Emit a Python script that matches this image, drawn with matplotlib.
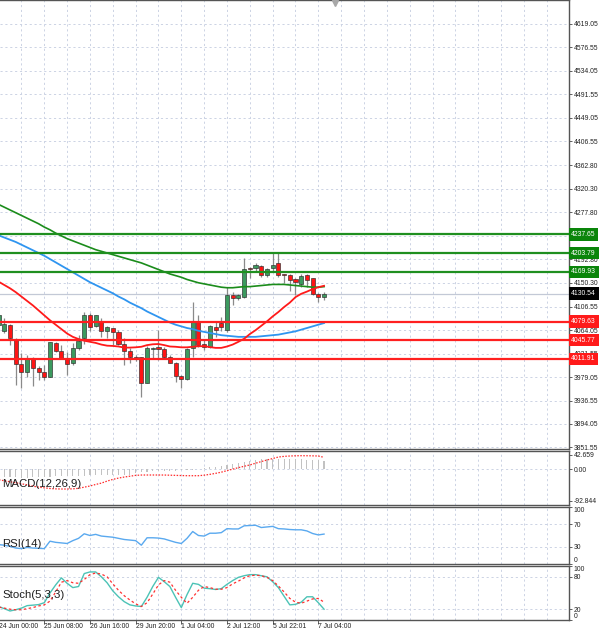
import numpy as np
import matplotlib.pyplot as plt
import matplotlib.transforms as mtransforms

plt.rcParams['font.family'] = ['Liberation Sans', 'DejaVu Sans']

# H4 bars, index -1 is the bar cut by the left edge
bar_idx = np.arange(-1, 57)

opens = [4073.5, 4062.6, 4073.5, 4048.1, 4002.3, 3987.8, 4013.1, 3995.0, 3988.8, 3979.8,
         4041.4, 4026.4, 4014.2, 4004.1, 4031.3, 4049.4, 4091.6, 4072.2, 4079.5, 4062.6,
         4068.6, 4061.3, 4039.05, 4026.9, 4016.0, 4014.9, 3968.9, 4030.5, 4033.1, 4029.45,
         4016.0, 4005.2, 3981.05, 3975.1, 4031.3, 4079.5, 4039.05, 4033.1, 4070.4, 4077.1,
         4064.4, 4127.9, 4121.9, 4124.8, 4176.3, 4176.3, 4181.0, 4164.1, 4176.3, 4185.3,
         4165.4, 4164.1, 4156.9, 4147.3, 4164.1, 4158.1, 4129.1, 4124.8]
highs = [4100.7, 4086.7, 4074.8, 4049.4, 4022.2, 4019.1, 4016.0, 3999.7, 4001.0, 4042.1,
         4043.2, 4037.2, 4025.1, 4040.3, 4055.4, 4097.6, 4094.7, 4091.6, 4085.6, 4072.2,
         4068.6, 4064.4, 4049.4, 4031.3, 4019.1, 4016.0, 4035.4, 4033.1, 4064.4, 4034.2,
         4019.1, 4007.0, 3982.9, 4031.3, 4115.7, 4091.6, 4046.3, 4073.0, 4079.5, 4088.5,
         4142.9, 4133.8, 4129.1, 4195.5, 4179.2, 4185.3, 4182.2, 4177.3, 4206.3, 4206.3,
         4165.4, 4165.4, 4158.1, 4165.4, 4165.4, 4158.1, 4130.9, 4133.8]
lows = [4068.05, 4058.4, 4037.2, 3964.7, 3958.8, 3979.8, 3963.5, 3973.8, 3973.8, 3979.8,
        4024.55, 4013.1, 3982.9, 4001.0, 4028.2, 4038.5, 4062.6, 4070.4, 4052.3, 4049.4,
        4037.2, 4037.2, 4001.0, 4005.2, 4008.8, 3942.4, 3967.8, 4013.1, 4010.05, 4013.1,
        4004.1, 3970.7, 3958.8, 3973.8, 4016.0, 4034.2, 4028.2, 4032.0, 4052.3, 4062.6,
        4061.3, 4109.7, 4118.8, 4121.9, 4158.1, 4170.1, 4161.0, 4161.0, 4172.0, 4161.0,
        4149.1, 4135.1, 4127.9, 4142.9, 4142.9, 4127.9, 4115.7, 4118.8]
closes = [4091.6, 4074.8, 4049.4, 4002.3, 3987.8, 4011.9, 3995.0, 3988.8, 3979.8, 4042.1,
          4026.4, 4014.2, 4003.3, 4031.3, 4044.5, 4091.6, 4070.4, 4091.6, 4062.6, 4069.3,
          4061.3, 4039.05, 4026.9, 4016.0, 4011.9, 3968.9, 4032.3, 4032.3, 4030.0, 4016.0,
          4005.2, 3981.05, 3975.1, 4029.45, 4079.5, 4037.2, 4033.1, 4071.0, 4064.4, 4069.9,
          4127.9, 4121.9, 4127.9, 4175.0, 4174.4, 4182.2, 4164.1, 4175.0, 4182.2, 4164.1,
          4164.1, 4155.05, 4150.9, 4162.8, 4155.05, 4129.1, 4124.8, 4130.54]

# moving averages
ma_green = [4292, 4287, 4282, 4277, 4272, 4267, 4262, 4257, 4251, 4246,
            4240, 4235, 4230, 4226, 4222, 4218, 4214, 4210, 4207, 4204,
            4201, 4198, 4195, 4192, 4189, 4186, 4182, 4178, 4174, 4170,
            4166, 4163, 4160, 4156, 4153, 4150, 4148, 4146, 4144, 4142,
            4141, 4141, 4142, 4143, 4143, 4144, 4145, 4146, 4147, 4147,
            4147, 4146, 4145, 4144, 4143, 4142, 4142, 4143]
ma_blue = [4236, 4232, 4228, 4224, 4219, 4214, 4209, 4204, 4199, 4193,
           4187, 4181, 4175, 4169, 4163, 4157, 4151, 4146, 4141, 4136,
           4131, 4125, 4120, 4114, 4109, 4104, 4098, 4093, 4088, 4083,
           4078, 4074, 4071, 4068, 4066, 4063, 4061, 4059, 4057, 4055,
           4054, 4053, 4052, 4052, 4052, 4052, 4053, 4054, 4055, 4056,
           4058, 4060, 4062, 4065, 4068, 4071, 4074, 4077]
ma_red = [4152, 4146, 4140, 4133, 4125, 4117, 4109, 4100, 4091, 4082,
          4074, 4066, 4058, 4052, 4048, 4045, 4043, 4041, 4038, 4036,
          4035.5, 4034.5, 4032.5, 4032.5, 4033, 4034, 4037, 4038.5, 4039, 4037,
          4034.5, 4034, 4033, 4033, 4034, 4035, 4035, 4033.5, 4032, 4032,
          4034.5, 4038, 4043, 4048.5, 4057, 4064, 4072, 4080, 4089, 4097,
          4106, 4114, 4124, 4130, 4134, 4138.5, 4142, 4144.5]

resist_levels = [4237.65, 4203.79, 4169.93]
support_levels = [4079.63, 4045.77, 4011.91]
last_price = 4130.54

price_ticks = [4619.05, 4576.55, 4534.05, 4491.55, 4449.05, 4406.55, 4362.80, 4320.30,
               4277.80, 4235.30, 4192.80, 4150.30, 4106.55, 4064.05, 4021.55, 3979.05,
               3936.55, 3894.05, 3851.55]

macd_main = [-22, -23, -24, -24, -25, -25, -24, -24, -23, -22,
             -21, -21, -20, -20, -19, -19, -18, -18, -17, -17,
             -17, -17, -16, -16, -12, -9, -7, -6, -5, -5,
             -4, -4, -3, -2, -1, 2, 4, 6, 8, 10,
             12, 16, 19, 23, 26, 28, 30, 31, 32, 32,
             31, 31, 30, 30, 29, 28, 27, 26]
macd_signal = [-31, -34, -37, -40, -43, -46, -50, -53, -55, -57,
               -58, -58.5, -58.5, -58, -56.5, -53, -49.6, -45, -41, -35,
               -30, -26, -23, -20.5, -18, -17, -16.9, -16.9, -16.9, -17,
               -17.5, -18, -18.5, -19, -19, -19, -17.5, -15, -12, -8.5,
               -4, 0.5, 5, 9, 13, 18, 23, 27.6, 32, 36.5,
               38.5, 39.5, 40.2, 40.4, 40.3, 40, 39.5, 35.6]

rsi = [34, 33, 31, 28, 27, 29, 28, 27.5, 27, 40,
       38, 37, 36, 41, 45, 53, 50, 52, 49, 48,
       47, 45, 43, 42, 41, 33, 46, 46, 45.5, 44,
       41, 38, 36, 45, 57, 50, 49, 54, 54, 55,
       62, 61.5, 61.5, 67, 67.5, 68, 64, 65, 66, 62,
       61.5, 60.5, 60, 60, 58, 53.5, 51, 52.5]

stoch_k = [25, 21, 16.7, 19, 22, 26.6, 27.5, 28.5, 32, 50,
           65, 78, 68, 60, 62, 86, 89, 89, 80, 69,
           54, 43, 34, 28, 26, 25, 42, 62, 79, 71,
           62, 42, 23, 47, 68, 66, 59, 58, 56.5, 58,
           66, 73, 79, 82, 84, 84, 82, 80, 71, 60,
           44, 28, 29, 33, 43, 43, 32, 20]
stoch_d = [24, 22, 20, 19, 19, 21, 23, 26, 28, 35,
           52, 70, 73, 69, 68, 75, 84, 87, 85, 80,
           67, 55, 45, 37, 30, 25, 32, 48, 65, 73,
           70, 55, 42, 31, 42, 55, 62, 60, 57, 57,
           60, 67, 72, 78, 82, 83, 82, 79, 73, 63,
           52, 40, 33, 31, 35, 39, 40, 33]

time_ticks = [-1, 7, 15, 23, 31, 39, 47, 55]
time_labels = ['24 Jun 00:00', '25 Jun 08:00', '26 Jun 16:00', '29 Jun 20:00',
               '1 Jul 04:00', '2 Jul 12:00', '5 Jul 22:01', '7 Jul 04:00']

W, H = 600, 635
XMIN, XMAX = -0.753, 98.9
GRID = dict(color='#ccd3e4', lw=0.7, ls=(0, (2.2, 2.8)))
FS = 4.9
PANEL_FS = 8.2


def panel(top, bottom):
    a = fig.add_axes([0, 1 - bottom / H, 569 / W, (bottom - top) / H])
    a.set_xlim(XMIN, XMAX)
    for i in range(3, 99, 4):
        a.axvline(i, zorder=0.5, **GRID)
    for s in ['top', 'bottom', 'right']:
        a.spines[s].set_color('#555555')
        a.spines[s].set_linewidth(1.0)
    a.spines['left'].set_visible(False)
    a.yaxis.tick_right()
    a.tick_params(axis='y', direction='out', length=2.5, width=0.6, pad=1,
                  labelsize=FS, labelcolor='#222222', color='#444444')
    a.tick_params(axis='x', bottom=False, labelbottom=False)
    return a


fig = plt.figure(figsize=(6, 6.35), dpi=100)

# main price panel
ax = panel(0, 449)
ax.set_ylim(3848.7, 4662.55)
ax.set_yticks(price_ticks, [f'{v:.2f}' for v in price_ticks])
ax.grid(axis='y', zorder=0.5, **GRID)

o = np.array(opens)
c = np.array(closes)
up = c >= o
ax.vlines(bar_idx, lows, highs, color='#8a8a8a', lw=0.9, zorder=2)
ax.bar(bar_idx[up], (c - o)[up], bottom=o[up], width=0.72, color='#3c9a5f',
       edgecolor='#2b2b2b', lw=0.45, zorder=2.5)
ax.bar(bar_idx[~up], (o - c)[~up], bottom=c[~up], width=0.72, color='#ff1414',
       edgecolor='#2b2b2b', lw=0.45, zorder=2.5)

ax.plot(bar_idx, ma_green, color='#1b8c1b', lw=1.2, zorder=3)
ax.plot(bar_idx, ma_blue, color='#2f95f0', lw=1.3, zorder=3)
ax.plot(bar_idx, ma_red, color='#ff1a1a', lw=1.3, zorder=3)

ax.axhline(last_price, color='#c3c9d6', lw=0.9, zorder=1)
for lv in resist_levels:
    ax.axhline(lv, color='#1f8f1f', lw=1.6, zorder=3.2)
for lv in support_levels:
    ax.axhline(lv, color='#ff2020', lw=1.6, zorder=3.2)

trans = mtransforms.blended_transform_factory(ax.transAxes, ax.transData)
BOX = dict(boxstyle='square,pad=0.4', ec='none')
for lv in resist_levels:
    ax.text(1.004, lv, f'{lv:.2f}', transform=trans, ha='left', va='center', fontsize=FS,
            color='white', clip_on=False, zorder=6, bbox=dict(fc='#0a850a', **BOX))
for lv in support_levels:
    ax.text(1.004, lv, f'{lv:.2f}', transform=trans, ha='left', va='center', fontsize=FS,
            color='white', clip_on=False, zorder=6, bbox=dict(fc='#ff1a1a', **BOX))
ax.text(1.004, last_price, f'{last_price:.2f}', transform=trans, ha='left', va='center',
        fontsize=FS, color='white', clip_on=False, zorder=6, bbox=dict(fc='black', **BOX))

# chart shift marker
ax.plot(335 / 569, 0.994, marker='v', ms=5, color='#a8a8a8', transform=ax.transAxes,
        clip_on=False, zorder=7)

# MACD
mx = panel(451, 505)
mx.set_ylim(-106.0, 54.4)
mx.axhline(0, zorder=0.5, **GRID)
mx.bar(bar_idx, macd_main, width=0.2, color='#c2c2c2', zorder=2)
mx.plot(bar_idx, macd_signal, color='#ff2a2a', lw=0.9, ls=(0, (1.2, 1.2)), zorder=3)
mx.set_yticks([42.659, 0, -92.844], ['42.659', '0.00', '-92.844'])
mx.text(0.004, 0.39, 'MACD(12,26,9)', transform=mx.transAxes, fontsize=PANEL_FS,
        color='#1e1e1e', va='center', ha='left', zorder=5)

# RSI
rx = panel(507, 564)
rx.set_ylim(0, 100)
for lv in [70, 30]:
    rx.axhline(lv, zorder=0.5, **GRID)
rx.plot(bar_idx, rsi, color='#5aa9ef', lw=1.0, zorder=3)
rx.set_yticks([100, 70, 30, 0], ['100', '70', '30', '0'])
lbl = rx.get_yticklabels()
lbl[0].set_va('top')
lbl[-1].set_va('bottom')
rx.text(0.004, 0.35, 'RSI(14)', transform=rx.transAxes, fontsize=PANEL_FS,
        color='#1e1e1e', va='center', ha='left', zorder=5)

# Stochastic
sx = panel(566, 620)
sx.set_ylim(0, 100)
for lv in [80, 20]:
    sx.axhline(lv, zorder=0.5, **GRID)
sx.plot(bar_idx, stoch_k, color='#4cc3b6', lw=1.0, zorder=3)
sx.plot(bar_idx, stoch_d, color='#ff3030', lw=0.9, ls=(0, (2, 2)), zorder=3)
sx.set_yticks([100, 80, 20, 0], ['100', '80', '20', '0'])
lbl = sx.get_yticklabels()
lbl[0].set_va('top')
lbl[-1].set_va('bottom')
sx.text(0.004, 0.46, 'Stoch(5,3,3)', transform=sx.transAxes, fontsize=PANEL_FS,
        color='#1e1e1e', va='center', ha='left', zorder=5)

# time axis
sx.set_xticks(time_ticks[1:])
sx.tick_params(axis='x', bottom=True, direction='out', length=3, width=0.6,
               color='#444444', labelbottom=False)
ttrans = mtransforms.blended_transform_factory(sx.transData, sx.transAxes)
for t, s in zip(time_ticks, time_labels):
    sx.text(t, -0.06, s, transform=ttrans, ha='left', va='top', fontsize=FS,
            color='#222222', clip_on=False)

fig.savefig('out.png', dpi=100, facecolor='white')
